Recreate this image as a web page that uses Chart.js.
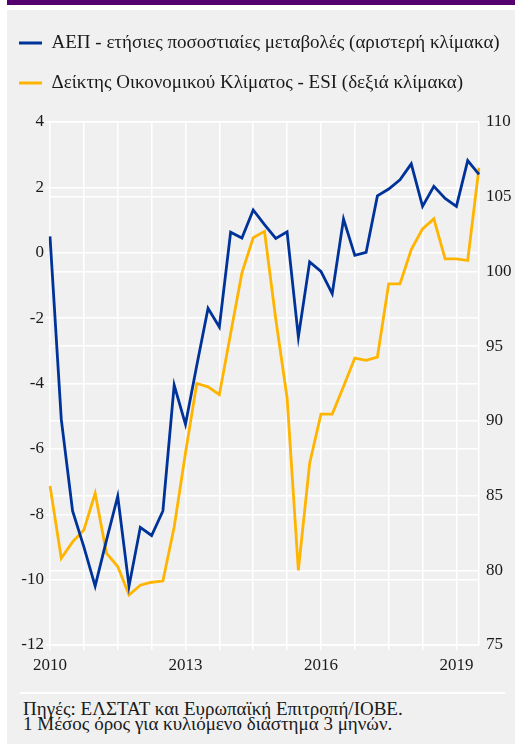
<!DOCTYPE html>
<html>
<head>
<meta charset="utf-8">
<script src="https://cdn.jsdelivr.net/npm/chart.js@4.4.1/dist/chart.umd.min.js"></script>
<style>
  html, body { margin: 0; padding: 0; background: #ffffff; }
  body { width: 515px; height: 744px; position: relative; overflow: hidden; font-family: 'Liberation Serif', 'Times New Roman', serif; }
  #topbar { position: absolute; left: 7px; top: 0; width: 508px; height: 5px; background: #55006e; }
  #panel { position: absolute; left: 7px; top: 10px; width: 508px; height: 734px; background: #f0f0f0; }
  #chart { position: absolute; left: -2px; top: 0; }
  #sep { position: absolute; left: 20px; top: 692px; width: 485px; height: 2px; background: #ffffff; }
  #notes { position: absolute; left: 23px; top: 701px; font-family: 'Liberation Serif', 'Times New Roman', serif; font-size: 19px; line-height: 15px; color: #1a1a1a; white-space: nowrap; }
</style>
</head>
<body>
<div id="topbar"></div>
<div id="panel"></div>
<canvas id="chart" width="517" height="690"></canvas>
<div id="sep"></div>
<div id="notes">Πηγές: ΕΛΣΤΑΤ και Ευρωπαϊκή Επιτροπή/ΙΟΒΕ.<br>1 Μέσος όρος για κυλιόμενο διάστημα 3 μηνών.</div>
<script>
// Quarterly categories 2010Q1 .. 2019Q3
const quarters = [
  '2010Q1','2010Q2','2010Q3','2010Q4',
  '2011Q1','2011Q2','2011Q3','2011Q4',
  '2012Q1','2012Q2','2012Q3','2012Q4',
  '2013Q1','2013Q2','2013Q3','2013Q4',
  '2014Q1','2014Q2','2014Q3','2014Q4',
  '2015Q1','2015Q2','2015Q3','2015Q4',
  '2016Q1','2016Q2','2016Q3','2016Q4',
  '2017Q1','2017Q2','2017Q3','2017Q4',
  '2018Q1','2018Q2','2018Q3','2018Q4',
  '2019Q1','2019Q2','2019Q3'
];
// GDP annual % change (left scale)
const gdpChange = [
  0.5, -5.1, -7.9, -9.0,
  -10.2, -8.8, -7.45, -10.2,
  -8.4, -8.65, -7.9, -4.05,
  -5.25, -3.45, -1.7, -2.27,
  0.63, 0.45, 1.31, 0.86,
  0.44, 0.64, -2.58, -0.28,
  -0.57, -1.25, 1.03, -0.08,
  0.01, 1.74, 1.95, 2.23,
  2.72, 1.42, 2.03, 1.66,
  1.42, 2.82, 2.4
];
// Economic Sentiment Indicator (right scale)
const esiIndex = [
  85.65, 80.8, 81.9, 82.7,
  85.15, 81.15, 80.25, 78.35,
  79.0, 79.2, 79.28, 82.9,
  87.85, 92.5, 92.28, 91.75,
  95.85, 99.9, 102.25, 102.68,
  96.8, 91.55, 80.0, 87.17,
  90.45, 90.45, 92.3, 94.2,
  94.05, 94.27, 99.17, 99.17,
  101.47, 102.85, 103.52, 100.84,
  100.84, 100.73, 106.94
];
const yearTickLabels = ['2010', '2013', '2016', '2019'];
const seriesNames = [
  'ΑΕΠ - ετήσιες ποσοστιαίες μεταβολές (αριστερή κλίμακα)',
  'Δείκτης Οικονομικού Κλίματος - ESI (δεξιά κλίμακα)'
];

const TEXT = '#1a1a1a';
const GRID = '#ffffff';
const FAMILY = "'Liberation Serif', 'Times New Roman', serif";
Chart.defaults.font.family = FAMILY;
Chart.defaults.font.size = 17;
Chart.defaults.color = TEXT;

const legendSpacer = {
  id: 'legendSpacer',
  beforeInit(chart) {
    const fit = chart.legend.fit;
    chart.legend.fit = function () {
      fit.bind(chart.legend)();
      this.height += 19.5;
    };
  }
};

new Chart(document.getElementById('chart'), {
  type: 'line',
  data: {
    labels: quarters,
    datasets: [
      {
        label: seriesNames[0],
        data: gdpChange,
        yAxisID: 'yL',
        borderColor: '#003399',
        backgroundColor: '#003399',
        borderWidth: 2.8,
        pointRadius: 0,
        tension: 0
      },
      {
        label: seriesNames[1],
        data: esiIndex,
        yAxisID: 'yR',
        borderColor: '#ffb400',
        backgroundColor: '#ffb400',
        borderWidth: 2.8,
        pointRadius: 0,
        tension: 0
      }
    ]
  },
  options: {
    responsive: false,
    animation: false,
    devicePixelRatio: 1,
    layout: { padding: { top: 12.5, left: 0, right: 0, bottom: 0 } },
    plugins: {
      legend: {
        display: true,
        position: 'top',
        align: 'start',
        labels: {
          usePointStyle: true,
          pointStyle: 'line',
          pointStyleWidth: 23,
          padding: 21,
          color: TEXT,
          font: { family: FAMILY, size: 19 }
        }
      },
      tooltip: { enabled: false },
      title: { display: false }
    },
    scales: {
      x: {
        type: 'category',
        offset: false,
        grid: { color: GRID, lineWidth: 1.5, tickLength: 5, drawTicks: true },
        border: { display: false },
        ticks: {
          autoSkip: false,
          maxRotation: 0,
          minRotation: 0,
          padding: 5,
          color: TEXT,
          font: { family: FAMILY, size: 17 },
          callback: function (value, index) {
            const y = quarters[index].slice(0, 4);
            if (index % 12 === 0 && yearTickLabels.includes(y)) return y;
            if (index % 3 === 0) return '';
            return null;
          }
        },
        afterFit(scale) { scale.height = 45; }
      },
      yL: {
        type: 'linear',
        position: 'left',
        min: -12,
        max: 4,
        grid: { color: GRID, lineWidth: 1.5, tickLength: 4, drawTicks: true },
        border: { display: false },
        ticks: { stepSize: 2, padding: 2, color: TEXT, font: { family: FAMILY, size: 17 } },
        afterFit(scale) { scale.width = 52; }
      },
      yR: {
        type: 'linear',
        position: 'right',
        min: 75,
        max: 110,
        grid: { color: GRID, lineWidth: 1.5, drawTicks: false, drawOnChartArea: true },
        border: { display: true, color: GRID, width: 1.5 },
        ticks: { stepSize: 5, padding: 7, color: TEXT, font: { family: FAMILY, size: 17 } },
        afterFit(scale) { scale.width = 36; }
      }
    }
  },
  plugins: [legendSpacer]
});
</script>
</body>
</html>
